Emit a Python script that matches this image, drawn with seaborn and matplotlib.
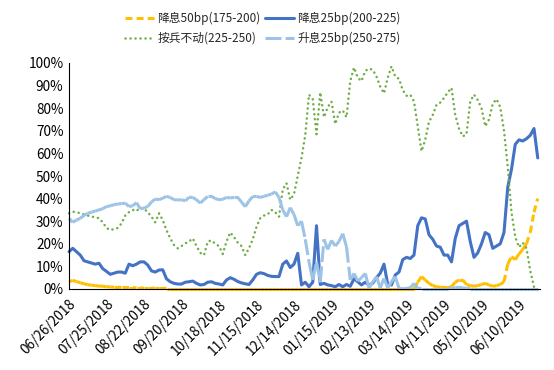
import numpy as np
import pandas as pd
import matplotlib
matplotlib.use("Agg")
import matplotlib.pyplot as plt
import seaborn as sns
from matplotlib.collections import LineCollection
from matplotlib.lines import Line2D
from matplotlib.ticker import PercentFormatter

# ---- data (one value every 2 trading days, in %) ----
tick_labels = ["06/26/2018", "07/25/2018", "08/22/2018", "09/20/2018", "10/18/2018",
               "11/15/2018", "12/14/2018", "01/15/2019", "02/13/2019", "03/14/2019",
               "04/11/2019", "05/10/2019", "06/10/2019"]

cut50 = [3.2, 3.8, 3.3, 2.8, 2.3, 1.9, 1.7, 1.5, 1.3, 1.2,
         1.0, 0.9, 0.8, 0.8, 0.7, 0.7, 0.6, 0.6, 0.5, 0.5,
         0.4, 0.4, 0.4, 0.3, 0.3, 0.3, 0.2, 0.2, 0.2, 0.2,
         0.2, 0.2, 0.2, 0.2, 0.2, 0.2, 0.2, 0.2, 0.2, 0.2,
         0.2, 0.2, 0.2, 0.2, 0.2, 0.2, 0.2, 0.2, 0.2, 0.2,
         0.2, 0.2, 0.2, 0.2, 0.2, 0.2, 0.2, 0.2, 0.2, 0.2,
         0.2, 0.2, 0.2, 0.2, 0.2, 0.2, 0.2, 0.2, 0.2, 0.2,
         0.2, 0.2, 0.2, 0.2, 0.2, 0.2, 0.2, 0.2, 0.2, 0.2,
         0.2, 0.2, 0.2, 0.2, 0.2, 0.2, 0.2, 0.2, 0.2, 0.2,
         0.2, 0.2, 0.2, 3.0, 5.5, 4.0, 2.5, 1.5, 1.0, 0.8,
         0.7, 0.6, 1.0, 3.0, 4.0, 4.0, 2.0, 1.5, 1.2, 1.5,
         2.0, 2.5, 1.8, 1.2, 1.5, 2.0, 3.2, 11.0, 14.3, 13.0,
         15.5, 17.5, 20.0, 25.0, 34.0, 40.0]

cut25 = [16.5, 18, 16.5, 15, 12.5, 12, 11.5, 11, 11.4, 9,
         7.8, 6.5, 7, 7.5, 7.5, 7, 11, 10.3, 11, 12,
         12, 10.6, 8, 7.5, 8.4, 8.5, 4.5, 3.2, 2.5, 2.2,
         2.2, 3, 3.2, 3.5, 2.5, 1.8, 2, 3, 3.2, 2.5,
         2.2, 1.8, 4, 5, 4.3, 3.3, 2.7, 2.3, 2, 4,
         6.5, 7.2, 6.8, 6, 5.6, 5.5, 5.5, 11, 12.4, 9.5,
         11, 15.8, 1.8, 3, 1, 3, 28, 2, 2.5, 1.8,
         1.5, 1, 2, 1, 2, 1.2, 4.5, 3.2, 1.8, 3,
         1.8, 2.5, 5, 7, 11, 2, 1.8, 6.2, 7.5, 13,
         14, 13.5, 15, 28, 31.5, 31, 24, 22, 19, 18.5,
         15, 15, 12, 22.4, 28, 29, 30, 21, 14, 16,
         20, 25, 24, 18, 19, 20, 25, 45, 53, 64,
         66, 65.5, 66.5, 68, 71, 58]

hold = [33.5, 34.2, 34, 33.5, 33, 32.5, 32, 31.8, 31.3, 29.5,
        27, 26.1, 26.5, 27, 29, 32.5, 34, 35, 34.5, 36,
        35.5, 34, 32, 29.5, 33.5, 30.5, 26, 22.4, 19.5, 18,
        19, 20.2, 21, 22.4, 19, 16, 15, 21, 21.5, 20,
        19, 15.5, 21, 25, 23, 20.5, 19, 15, 18, 22,
        27.5, 31.3, 32.5, 33, 35, 34, 32, 44, 46.8, 39.5,
        42, 50, 58, 68, 86, 84, 68.5, 87, 76, 80.5,
        82.9, 73, 78, 79, 76, 92, 98, 93.5, 92, 96.5,
        97.5, 97, 94, 89.5, 86.6, 93.5, 98.5, 94, 93, 88,
        85.5, 86, 83, 72, 61, 66, 74, 77, 81.5, 82.5,
        84.5, 87, 89, 77, 71, 67.5, 68.5, 83, 86, 83.6,
        80, 72, 75, 82, 84, 80.5, 70, 54, 34, 23,
        18.5, 20.5, 18, 8, 1, 0.5]

hike25 = [31.3, 29.5, 30.5, 31.3, 32.5, 33.5, 34, 34.5, 35, 35.5,
          36.5, 36.8, 37.3, 37.6, 37.8, 38, 36.5, 36.8, 38.2, 35.5,
          35.8, 36.5, 38.5, 39.8, 39.5, 40.2, 41, 40.5, 39.5, 39.4,
          39.5, 39, 40.6, 40.5, 39.5, 38, 39.5, 41, 41, 40,
          39.5, 39.7, 40.5, 40.3, 40.5, 40.5, 38.5, 36.4, 39, 40.9,
          41, 40.5, 41, 41.5, 42, 43, 40.5, 35, 32, 36,
          33, 28, 30, 22, 12, 4, 12, 3, 22, 17.5,
          21.5, 19, 21, 24.5, 18.7, 4, 6.9, 3.5, 5, 6.9,
          0.5, 3, 5.5, 0.5, 4.7, 0.5, 3.2, 5.5, 0.3, 0.3,
          0.3, 0.5, 2.5, 0.3, 0.2, 0.2, 0.2, 0.2, 0.2, 0.2,
          0.2, 0.2, 0.3, 0.5, 0.8, 0.5, 0.3, 0.2, 0.2, 0.2,
          0.2, 0.2, 0.2, 0.2, 0.2, 0.2, 0.2, 0.2, 0.2, 0.2,
          0.2, 0.2, 0.2, 0.2, 0.2, 0.2]

names = ["降息50bp(175-200)", "降息25bp(200-225)", "按兵不动(225-250)", "升息25bp(250-275)"]
colors = ["#FFC000", "#4472C4", "#70AD47", "#9DC3E6"]

n = len(cut25)
df = pd.DataFrame({"t": np.arange(n), names[0]: cut50, names[1]: cut25,
                   names[2]: hold, names[3]: hike25})

sns.set_theme(style="white")
plt.rcParams["font.family"] = ["Noto Sans CJK SC", "DejaVu Sans"]
plt.rcParams["lines.scale_dashes"] = False

fig, ax = plt.subplots(figsize=(5.54, 3.70), dpi=100)
fig.subplots_adjust(left=69 / 554, right=540 / 554, top=1 - 63 / 370, bottom=1 - 289 / 370)


def restart_dashes(ax, line, dashes):
    """Excel-like dashes: the pattern restarts at each data point."""
    xy = line.get_xydata()
    segs = np.stack([xy[:-1], xy[1:]], axis=1)
    lc = LineCollection(segs, colors=line.get_color(), linewidths=line.get_linewidth(),
                        linestyles=[(0, dashes)], capstyle="butt", joinstyle="round",
                        zorder=line.get_zorder(), clip_on=False)
    ax.add_collection(lc)
    line.remove()


lw = 2.2
dash_y = (5, 3)
dash_lb = (11.5, 3)
dot_g = (0.1, 3.5)

# yellow
sns.lineplot(data=df, x="t", y=df[names[0]] / 100, ax=ax, color=colors[0], linewidth=lw)
restart_dashes(ax, ax.lines[-1], dash_y)
# dark blue
sns.lineplot(data=df, x="t", y=df[names[1]] / 100, ax=ax, color=colors[1], linewidth=lw,
             clip_on=False)
# green dotted
sns.lineplot(data=df, x="t", y=df[names[2]] / 100, ax=ax, color=colors[2], linewidth=1.8,
             linestyle=(0, dot_g), dash_capstyle="round", clip_on=False)
# light blue
sns.lineplot(data=df, x="t", y=df[names[3]] / 100, ax=ax, color=colors[3], linewidth=lw)
restart_dashes(ax, ax.lines[-1], dash_lb)

ax.set_xlim(0, (540 - 69) / 3.75)
ax.set_ylim(0, 1)
ax.set_yticks(np.arange(0, 1.01, 0.1))
ax.yaxis.set_major_formatter(PercentFormatter(1.0, decimals=0))
ax.set_xticks(np.arange(0, len(tick_labels) * 10, 10))
ax.set_xticklabels(tick_labels, rotation=45, ha="right", rotation_mode="anchor")
ax.set_xlabel("")
ax.set_ylabel("")
ax.tick_params(axis="both", direction="in", length=3, width=0.8, color="black",
               labelsize=9.8, labelcolor="black", pad=4)
ax.tick_params(axis="x", pad=6)
for s in ["top", "right"]:
    ax.spines[s].set_visible(False)
for s in ["left", "bottom"]:
    ax.spines[s].set_color("black")
    ax.spines[s].set_linewidth(0.8)

handles = {
    names[0]: Line2D([], [], color=colors[0], lw=lw, linestyle=(0, dash_y)),
    names[1]: Line2D([], [], color=colors[1], lw=lw),
    names[2]: Line2D([], [], color=colors[2], lw=1.8, linestyle=(0, dot_g),
                     dash_capstyle="round"),
    names[3]: Line2D([], [], color=colors[3], lw=lw, linestyle=(0, dash_lb)),
}
# legend fills column-wise: order so rows read (yellow, blue) / (green, light blue)
order = [names[0], names[2], names[1], names[3]]
fig.legend([handles[k] for k in order], order, loc="center",
           bbox_to_anchor=(263 / 554, 1 - 28.5 / 370),
           ncol=2, frameon=False, fontsize=8.5, handlelength=2.4, handletextpad=0.3,
           columnspacing=0.4, labelspacing=0.55)

fig.savefig("out.png", dpi=100)
